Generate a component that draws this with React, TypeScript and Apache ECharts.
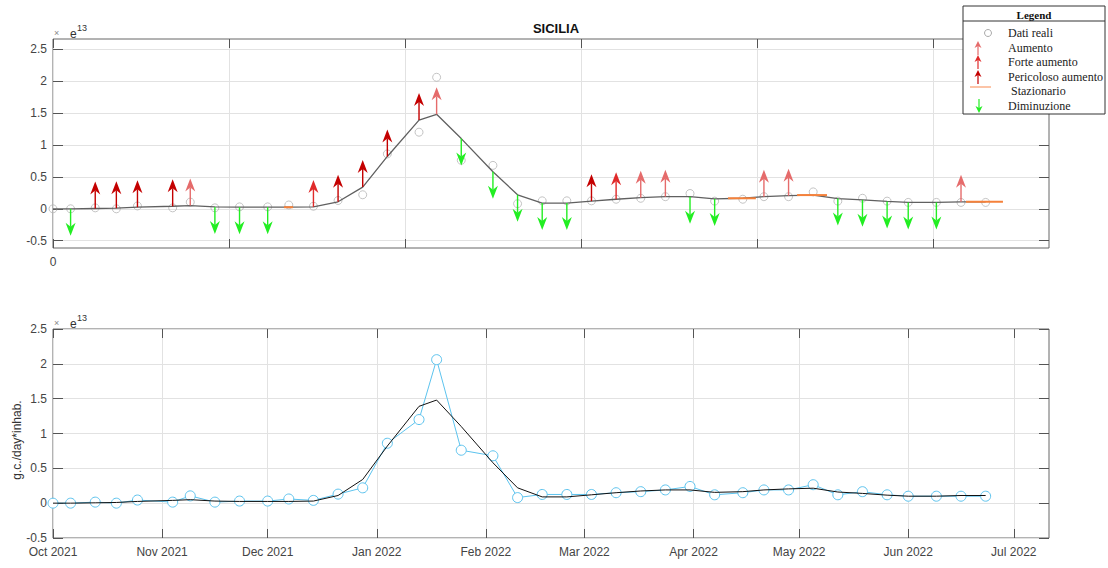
import React, { useEffect, useRef } from 'react';
import * as echarts from 'echarts';

// ---------- data (values in units of 1e13 g.c./day*inhab.) ----------
const sampleDates = [
  '2021-10-01', '2021-10-06', '2021-10-13', '2021-10-19', '2021-10-25', '2021-11-04', '2021-11-09',
  '2021-11-16', '2021-11-23', '2021-12-01', '2021-12-07', '2021-12-14', '2021-12-21', '2021-12-28',
  '2022-01-04', '2022-01-13', '2022-01-18', '2022-01-25', '2022-02-03', '2022-02-10', '2022-02-17',
  '2022-02-24', '2022-03-03', '2022-03-10', '2022-03-17', '2022-03-24', '2022-03-31', '2022-04-07',
  '2022-04-15', '2022-04-21', '2022-04-28', '2022-05-05', '2022-05-12', '2022-05-19', '2022-05-26',
  '2022-06-01', '2022-06-09', '2022-06-16', '2022-06-23',
];
const realValues = [
  0, 0, 0.015, 0, 0.045, 0.015, 0.105, 0.015, 0.03, 0.03, 0.06, 0.04, 0.13, 0.22,
  0.86, 1.2, 2.06, 0.76, 0.68, 0.08, 0.125, 0.125, 0.125, 0.15, 0.165, 0.19, 0.24, 0.12,
  0.15, 0.19, 0.19, 0.265, 0.12, 0.165, 0.12, 0.1, 0.1, 0.1, 0.1,
];
const trendValues = [
  0, 0, 0.005, 0.01, 0.025, 0.04, 0.05, 0.03, 0.025, 0.025, 0.025, 0.03, 0.11, 0.34,
  0.82, 1.39, 1.48, 1.1, 0.58, 0.22, 0.09, 0.09, 0.12, 0.15, 0.175, 0.19, 0.19, 0.155,
  0.165, 0.19, 0.205, 0.215, 0.16, 0.14, 0.115, 0.1, 0.1, 0.11, 0.11,
];
// '' none, A Aumento, F Forte aumento, P Pericoloso aumento, S Stazionario, D Diminuzione
const trendClass = [
  '', 'D', 'P', 'P', 'P', 'P', 'A', 'D', 'D', 'D', 'S', 'F', 'P', 'P',
  'P', 'P', 'A', 'D', 'D', 'D', 'D', 'D', 'P', 'F', 'A', 'A', 'D', 'D',
  'S', 'A', 'A', 'S', 'D', 'D', 'D', 'D', 'D', 'A', 'S',
];
const stationaryFrom = ['2021-12-05 15', '2022-04-10 19', '2022-04-30 10', '2022-06-17 10'];
const stationaryTo = ['2021-12-08 05', '2022-04-18 17', '2022-05-08 22', '2022-06-27 22'];

const axisStart = '2021-10-01';
const axisEnd = '2022-07-11';
const dayTickStep = 50;
const yTicks = [-0.5, 0, 0.5, 1, 1.5, 2, 2.5];
const monthNames = ['Jan', 'Feb', 'Mar', 'Apr', 'May', 'Jun', 'Jul', 'Aug', 'Sep', 'Oct', 'Nov', 'Dec'];
const legendItems = ['Dati reali', 'Aumento', 'Forte aumento', 'Pericoloso aumento', ' Stazionario', 'Diminuzione'];

// ---------- helpers ----------
const parseDate = (s: string) => {
  const [d, h] = s.split(' ');
  const [y, m, dd] = d.split('-').map(Number);
  return Date.UTC(y, m - 1, dd, h ? Number(h) : 0);
};
const DAY = 86400000;
const T0 = parseDate(axisStart);
const TMAX = parseDate(axisEnd);

const COLORS: Record<string, string> = {
  A: '#e56b6b',
  F: '#e02a2a',
  P: '#c40000',
  D: '#22ee22',
  S: '#f5813a',
};
const FONT = 'Liberation Sans, Arial, Helvetica, sans-serif';
const SERIF = 'Liberation Serif, Times New Roman, serif';
const LABEL_COLOR = '#444';
const GRID_COLOR = '#e2e2e2';
const TICK_COLOR = '#555';

export default function App() {
  const ref = useRef<HTMLDivElement>(null);

  useEffect(() => {
    if (!ref.current) return;
    const chart = echarts.init(ref.current, null, { renderer: 'svg' });

    const times = sampleDates.map(parseDate);
    const realData = times.map((t, i) => [t, realValues[i]]);
    const trendData = times.map((t, i) => [t, trendValues[i]]);
    const arrowData = times
      .map((t, i) => [t, trendValues[i], trendClass[i]])
      .filter((d) => d[2] === 'A' || d[2] === 'F' || d[2] === 'P' || d[2] === 'D');
    const stationaryIdx = trendClass.map((c, i) => (c === 'S' ? i : -1)).filter((i) => i >= 0);
    const stationaryData = stationaryIdx.map((idx, k) => [
      parseDate(stationaryFrom[k]),
      parseDate(stationaryTo[k]),
      trendValues[idx],
    ]);

    const dayTicks: number[] = [];
    for (let d = 0; T0 + d * DAY <= TMAX; d += dayTickStep) dayTicks.push(T0 + d * DAY);
    const monthTicks: number[] = [];
    {
      const s = new Date(T0);
      let y = s.getUTCFullYear();
      let m = s.getUTCMonth();
      while (Date.UTC(y, m, 1) <= TMAX) {
        monthTicks.push(Date.UTC(y, m, 1));
        m++;
        if (m > 11) { m = 0; y++; }
      }
    }

    const ARROW_LEN = 27;
    const HEAD_LEN = 13;
    const HEAD_HALF = 5;
    const NOTCH = 4;

    const renderArrow = (params: any, api: any) => {
      const t = api.value(0);
      const v = api.value(1);
      const k = arrowData[params.dataIndex][2] as string;
      const p = api.coord([t, v]);
      const x = p[0];
      const y = p[1];
      const dir = k === 'D' ? 1 : -1;
      const color = COLORS[k];
      const tipY = y + dir * ARROW_LEN;
      const baseY = tipY - dir * HEAD_LEN;
      const notchY = baseY + dir * NOTCH;
      return {
        type: 'group',
        children: [
          {
            type: 'line',
            shape: { x1: x, y1: y, x2: x, y2: notchY },
            style: { stroke: color, lineWidth: 1.4 },
          },
          {
            type: 'polygon',
            shape: { points: [[x, tipY], [x - HEAD_HALF, baseY], [x, notchY], [x + HEAD_HALF, baseY]] },
            style: { fill: color },
          },
        ],
      };
    };

    const renderStationary = (params: any, api: any) => {
      const a = api.coord([api.value(0), api.value(2)]);
      const b = api.coord([api.value(1), api.value(2)]);
      return {
        type: 'line',
        shape: { x1: a[0], y1: a[1], x2: b[0], y2: b[1] },
        style: { stroke: COLORS.S, lineWidth: 2 },
      };
    };

    const baseXAxis = (grid: number, ticks: number[], position: 'top' | 'bottom', labels: boolean, fmt?: (v: number) => string) => ({
      type: 'value',
      gridIndex: grid,
      position,
      min: T0,
      max: TMAX,
      axisLine: { show: false, onZero: false },
      axisTick: { show: true, inside: true, length: 9, customValues: ticks, lineStyle: { color: TICK_COLOR } },
      axisLabel: labels
        ? { show: true, customValues: ticks, formatter: fmt, color: LABEL_COLOR, fontSize: 12, fontFamily: FONT, margin: 8 }
        : { show: false },
      splitLine: { show: position === 'bottom', lineStyle: { color: GRID_COLOR, width: 1 } },
    });

    const baseYAxis = (grid: number, min: number, max: number, position: 'left' | 'right', labels: boolean) => ({
      type: 'value',
      gridIndex: grid,
      position,
      min,
      max,
      axisLine: { show: false, onZero: false },
      axisTick: { show: true, inside: true, length: 10, customValues: yTicks, lineStyle: { color: TICK_COLOR } },
      axisLabel: labels
        ? { show: true, customValues: yTicks, color: LABEL_COLOR, fontSize: 12, fontFamily: FONT, margin: 6 }
        : { show: false },
      splitLine: { show: position === 'left', lineStyle: { color: GRID_COLOR, width: 1 } },
    });

    // legend graphics
    const LX = 963, LY = 6, LW = 142, LH = 108;
    const rowY = [33, 48, 62, 77, 91, 106];
    const smallArrow = (cx: number, cy: number, color: string, down: boolean) => {
      const dir = down ? 1 : -1;
      const tip = cy + dir * 7;
      const base = tip - dir * 7;
      const notch = base + dir * 2;
      return [
        { type: 'line', shape: { x1: cx, y1: cy - dir * 7, x2: cx, y2: notch }, style: { stroke: color, lineWidth: 1.2 } },
        { type: 'polygon', shape: { points: [[cx, tip], [cx - 3.5, base], [cx, notch], [cx + 3.5, base]] }, style: { fill: color } },
      ];
    };
    const legendChildren: any[] = [
      { type: 'rect', shape: { x: LX, y: LY, width: LW, height: LH }, style: { fill: '#fff', stroke: '#333', lineWidth: 1 } },
      { type: 'line', shape: { x1: LX, y1: 21, x2: LX + LW, y2: 21 }, style: { stroke: '#333', lineWidth: 1 } },
      { type: 'text', x: LX + LW / 2, y: 15, style: { text: 'Legend', font: `bold 11px ${SERIF}`, fill: '#111', align: 'center', verticalAlign: 'middle' } },
      { type: 'circle', shape: { cx: 988, cy: rowY[0], r: 3.5 }, style: { fill: 'none', stroke: '#aaa', lineWidth: 1 } },
      ...smallArrow(978, rowY[1], COLORS.A, false),
      ...smallArrow(978, rowY[2], COLORS.F, false),
      ...smallArrow(978, rowY[3], COLORS.P, false),
      { type: 'line', shape: { x1: 970, y1: rowY[4] - 4, x2: 991, y2: rowY[4] - 4 }, style: { stroke: '#fbb08a', lineWidth: 1.5 } },
      ...smallArrow(979, rowY[5], COLORS.D, true),
      ...legendItems.map((txt, i) => ({
        type: 'text',
        x: 1008,
        y: rowY[i],
        style: { text: txt, font: `12px ${SERIF}`, fill: '#222', align: 'left', verticalAlign: 'middle' },
      })),
    ].map((el, i) => ({ ...el, z: 100, z2: i }));

    const expLabel = (y: number) => [
      { type: 'text', x: 54, y: y + 1, style: { text: '×', font: `9px ${FONT}`, fill: '#888', verticalAlign: 'middle' } },
      { type: 'text', x: 70, y: y + 2, style: { text: 'e', font: `12px ${FONT}`, fill: '#333', verticalAlign: 'middle' } },
      { type: 'text', x: 77, y: y - 4, style: { text: '13', font: `9px ${FONT}`, fill: '#333', verticalAlign: 'middle' } },
    ];

    chart.setOption({
      animation: false,
      textStyle: { fontFamily: FONT },
      grid: [
        { left: 53, top: 39, width: 996, height: 209, show: true, borderColor: '#666', borderWidth: 1, backgroundColor: 'transparent' },
        { left: 53, top: 329, width: 996, height: 209, show: true, borderColor: '#666', borderWidth: 1, backgroundColor: 'transparent' },
      ],
      xAxis: [
        baseXAxis(0, dayTicks, 'bottom', true, (v: number) => (Math.round((v - T0) / DAY) === 0 ? '0' : '')),
        baseXAxis(0, dayTicks, 'top', false),
        baseXAxis(1, monthTicks, 'bottom', true, (v: number) => {
          const d = new Date(v);
          return `${monthNames[d.getUTCMonth()]} ${d.getUTCFullYear()}`;
        }),
        baseXAxis(1, monthTicks, 'top', false),
      ],
      yAxis: [
        baseYAxis(0, -0.614, 2.66, 'left', true),
        baseYAxis(0, -0.614, 2.66, 'right', false),
        baseYAxis(1, -0.5, 2.5, 'left', true),
        baseYAxis(1, -0.5, 2.5, 'right', false),
      ],
      title: {
        text: 'SICILIA',
        left: 551,
        top: 17,
        textAlign: 'center',
        textStyle: { fontSize: 13, fontWeight: 'bold', color: '#111', fontFamily: FONT },
      },
      graphic: [
        ...expLabel(32),
        ...expLabel(322),
        {
          type: 'text',
          x: 17,
          y: 440,
          rotation: Math.PI / 2,
          style: { text: 'g.c./day*inhab.', font: `12px ${FONT}`, fill: '#333', align: 'center', verticalAlign: 'middle' },
        },
        ...legendChildren,
      ],
      series: [
        {
          name: 'Dati reali',
          type: 'scatter',
          xAxisIndex: 0,
          yAxisIndex: 0,
          data: realData,
          symbol: 'circle',
          symbolSize: 8,
          itemStyle: { color: 'transparent', borderColor: '#b5b5b5', borderWidth: 1 },
          z: 2,
        },
        {
          name: 'trend',
          type: 'line',
          xAxisIndex: 0,
          yAxisIndex: 0,
          data: trendData,
          symbol: 'none',
          lineStyle: { color: '#606060', width: 1.3 },
          z: 3,
        },
        {
          name: 'Stazionario',
          type: 'custom',
          xAxisIndex: 0,
          yAxisIndex: 0,
          data: stationaryData,
          encode: { x: [0, 1], y: 2 },
          renderItem: renderStationary,
          z: 4,
        },
        {
          name: 'arrows',
          type: 'custom',
          xAxisIndex: 0,
          yAxisIndex: 0,
          data: arrowData.map((d) => [d[0], d[1]]),
          encode: { x: 0, y: 1 },
          renderItem: renderArrow,
          clip: false,
          z: 5,
        },
        {
          name: 'real',
          type: 'line',
          xAxisIndex: 2,
          yAxisIndex: 2,
          data: realData,
          symbol: 'circle',
          symbolSize: 10,
          showSymbol: true,
          lineStyle: { color: '#5cc3ee', width: 1 },
          itemStyle: { color: '#fff', borderColor: '#5cc3ee', borderWidth: 1 },
          z: 2,
        },
        {
          name: 'trend2',
          type: 'line',
          xAxisIndex: 2,
          yAxisIndex: 2,
          data: trendData,
          symbol: 'none',
          lineStyle: { color: '#111', width: 1 },
          z: 3,
        },
      ],
    });

    return () => chart.dispose();
  }, []);

  return <div ref={ref} style={{ position: 'fixed', left: 0, top: 0, width: 1108, height: 568, background: '#fff' }} />;
}
